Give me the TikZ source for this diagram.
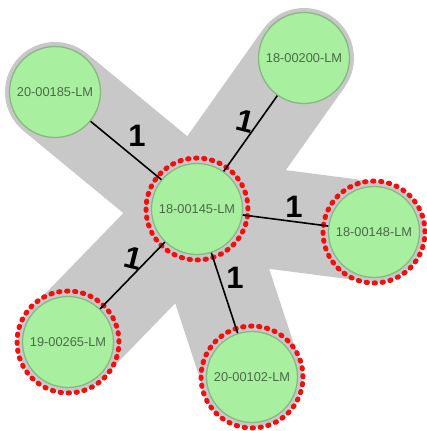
\documentclass[tikz,border=0pt]{standalone}
\usepackage{fontspec}
\setmainfont{Liberation Sans}
\definecolor{bandgray}{HTML}{C8C8C8}
\definecolor{nodegreen}{HTML}{A8F0A0}
\definecolor{nodeborder}{HTML}{88B882}
\definecolor{nodetext}{HTML}{4A6A45}
\definecolor{ringred}{HTML}{F01010}
\tikzset{
  band/.style={line width=100pt, line cap=round, bandgray},
  gnode/.style={circle, minimum size=91pt, inner sep=0pt, fill=nodegreen, draw=nodeborder, line width=1.3pt, text=nodetext, font=\fontsize{12.8}{13}\selectfont},
  ring/.style={draw=ringred, line width=5pt, line cap=round, dash pattern=on 1.4pt off 6.61pt},
  edge/.style={draw=black, line width=1.6pt},
  wlabel/.style={font=\fontsize{31}{31}\selectfont\bfseries, text=black, inner sep=0pt}
}
\begin{document}
\begin{tikzpicture}[x=1pt,y=-1pt]
\useasboundingbox (0,0) rectangle (426,431);
\coordinate (pc) at (197,209);
\coordinate (pa) at (55,92);
\coordinate (pb) at (304,58);
\coordinate (pd) at (374,232);
\coordinate (pe) at (68,342);
\coordinate (pf) at (252,377);
% gray bands
\foreach \p in {pa,pb,pd,pe,pf}{\draw[band] (pc) -- (\p);}
% red dotted rings
\foreach \p in {pc,pd,pe,pf}{\draw[ring] (\p) circle (51pt);}
% nodes
\node[gnode] (c) at (pc) {18-00145-LM};
\node[gnode] (a) at (pa) {20-00185-LM};
\node[gnode] (b) at (pb) {18-00200-LM};
\node[gnode] (d) at (pd) {18-00148-LM};
\node[gnode] (e) at (pe) {19-00265-LM};
\node[gnode] (f) at (pf) {20-00102-LM};
% edges
\draw[edge] (c) -- (a);
\draw[edge] (c) -- (b);
\draw[edge] (c) -- (d);
\draw[edge] (c) -- (e);
\draw[edge] (c) -- (f);
% labels
\node[wlabel] (la) at (137,136) {1};
\node[wlabel, rotate=-14] (lb) at (245,121) {1};
\node[wlabel] (ld) at (294,207) {1};
\node[wlabel, rotate=-14] (le) at (133,258) {1};
\node[wlabel] (lf) at (235,278) {1};
\end{tikzpicture}
\end{document}
